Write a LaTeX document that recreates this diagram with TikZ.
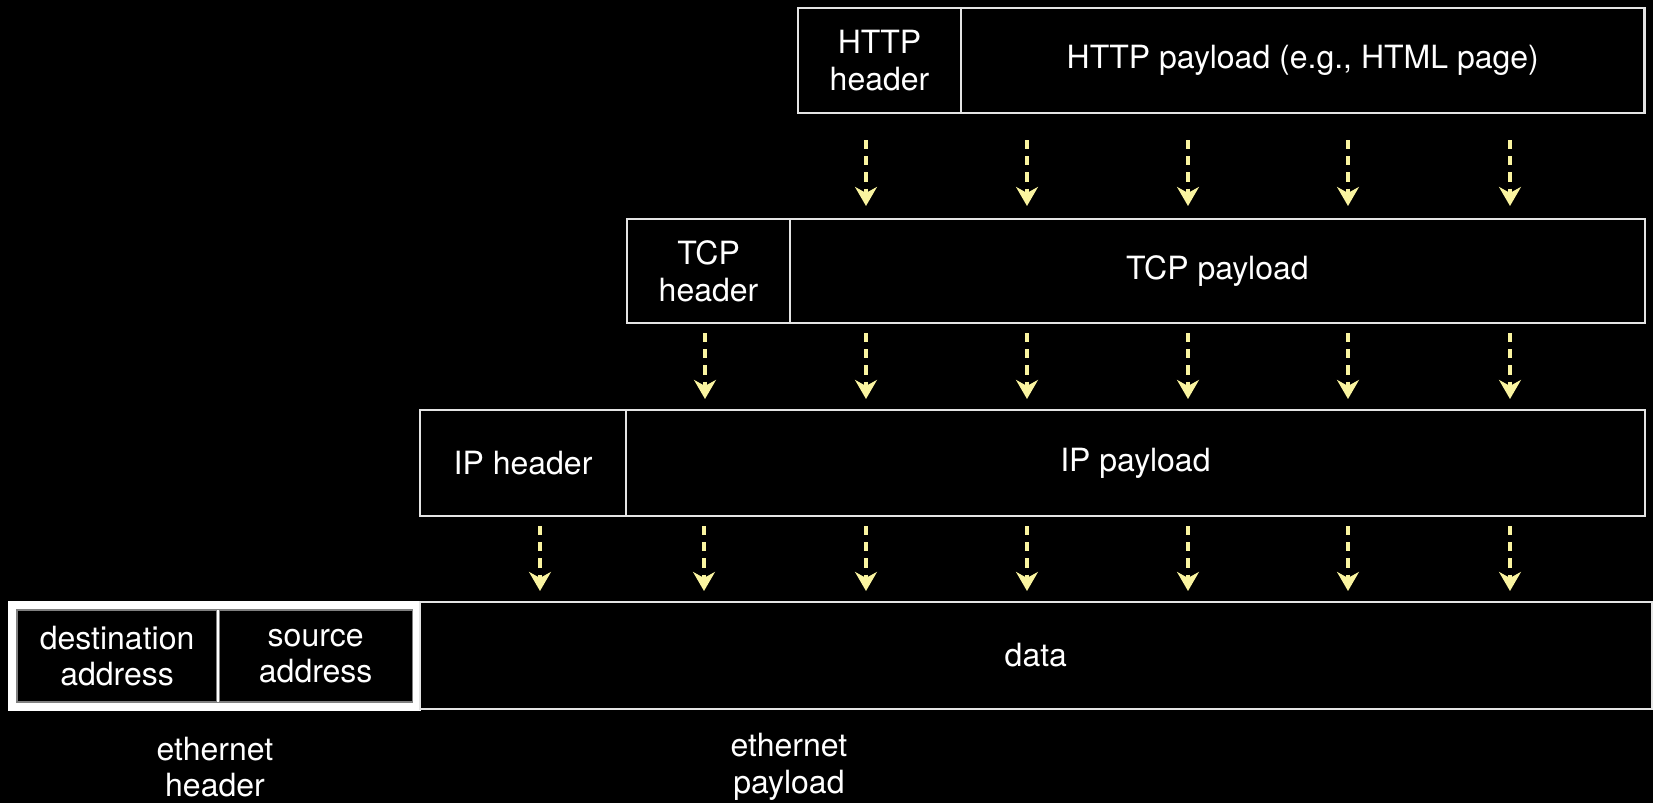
\documentclass[tikz,border=0pt]{standalone}
\usepackage{fontspec}
\setmainfont{TeX Gyre Heros}
\usetikzlibrary{positioning,fit,arrows.meta}

\definecolor{flowyellow}{RGB}{250,244,160}
\definecolor{linegray}{RGB}{228,228,228}

\tikzset{
  pbox/.style={draw=linegray, line width=0.6pt, rectangle, inner sep=0pt, outer sep=0pt,
    text=white, align=center, font=\fontsize{9.1}{10.4}\selectfont},
  flow/.style={draw=flowyellow, line width=1.2pt, dash pattern=on 2.6pt off 2pt,
    -{Stealth[length=5.4pt,width=6.2pt,inset=1.7pt,fill=flowyellow]}},
}

\begin{document}
\begin{tikzpicture}[x=0.01cm, y=-0.01cm]
\fill[black] (0,0) rectangle (1653,803);
\useasboundingbox (0,0) rectangle (1653,803);

% http
\node[pbox, anchor=north west, minimum width=1.63cm, minimum height=1.05cm] (httphd) at (798,8) {HTTP\\header};
\node[pbox, right=0pt of httphd, minimum width=6.83cm, minimum height=1.05cm] (httppay) {HTTP payload (e.g., HTML page)};

% tcp
\node[pbox, anchor=north west, minimum width=1.63cm, minimum height=1.04cm] (tcphd) at (627,219) {TCP\\header};
\node[pbox, right=0pt of tcphd, minimum width=8.54cm, minimum height=1.04cm] (tcppay) {TCP payload};

% ip
\node[pbox, anchor=north west, minimum width=2.06cm, minimum height=1.06cm] (iphd) at (420,410) {IP header};
\node[pbox, right=0pt of iphd, minimum width=10.18cm, minimum height=1.06cm] (ippay) {IP payload};

% ethernet
\node[pbox, draw=gray, line width=0.4pt, anchor=north west, minimum width=2.0cm, minimum height=0.92cm] (dst) at (17,610) {destination\\address};
\node[pbox, draw=gray, line width=0.4pt, right=0.02cm of dst, minimum width=1.93cm, minimum height=0.92cm] (src) {source\\address};
\node[fit=(dst)(src), draw=white, line width=2.3pt, inner sep=0.05cm] (ethhd) {};
\draw[white, line width=0.6pt] ([xshift=0.01cm]dst.north east) -- ([xshift=0.01cm]dst.south east);
\node[pbox, anchor=north west, minimum width=12.31cm, minimum height=1.07cm] (data) at (420,602) {data};

\node[pbox, draw=none] (ethhdlbl) at (215,767) {ethernet\\header};
\node[pbox, draw=none] (ethpaylbl) at (789,767) {ethernet\\payload};

% arrows
\foreach \x in {866,1027,1188,1348,1510}
  \draw[flow] ([yshift=-0.27cm]\x,0 |- httppay.south) -- ([yshift=0.13cm]\x,0 |- tcppay.north);
\foreach \x in {705,866,1027,1188,1348,1510}
  \draw[flow] ([yshift=-0.10cm]\x,0 |- tcppay.south) -- ([yshift=0.11cm]\x,0 |- ippay.north);
\foreach \x in {540,704,866,1027,1188,1348,1510}
  \draw[flow] ([yshift=-0.10cm]\x,0 |- ippay.south) -- ([yshift=0.11cm]\x,0 |- data.north);
\end{tikzpicture}
\end{document}
